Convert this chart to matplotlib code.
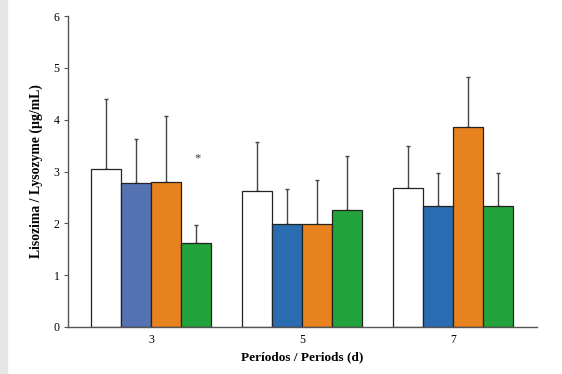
import numpy as np
import matplotlib.pyplot as plt
from matplotlib.patches import Rectangle

# Lysozyme by period, four treatments
periods = ['3', '5', '7']
control = [3.04, 2.63, 2.68]
control_err = [1.36, 0.94, 0.82]
treat_a = [2.78, 1.98, 2.33]
treat_a_err = [0.85, 0.68, 0.64]
treat_b = [2.80, 1.98, 3.85]
treat_b_err = [1.27, 0.86, 0.97]
treat_c = [1.62, 2.25, 2.33]
treat_c_err = [0.34, 1.05, 0.64]

plt.rcParams['font.family'] = ['Liberation Serif', 'DejaVu Serif']

fig = plt.figure(figsize=(5.62, 3.74), dpi=100)
fig.patches.append(Rectangle((0, 0), 7 / 562, 1, transform=fig.transFigure,
                             color='#e6e6e6', zorder=0))
ax = fig.add_axes([0.121, 0.1257, 0.8345, 0.8313])

x = np.arange(len(periods))
w = 0.2
series = [
    (control, control_err, ['white'] * 3),
    (treat_a, treat_a_err, ['#5573b2', '#2a6cb2', '#2a6cb2']),
    (treat_b, treat_b_err, ['#e8821e'] * 3),
    (treat_c, treat_c_err, ['#23a33b'] * 3),
]
for i, (vals, errs, cols) in enumerate(series):
    pos = x + (i - 1.5) * w
    ax.bar(pos, vals, width=w, color=cols, edgecolor='#222222', linewidth=0.9, zorder=2)
    ax.errorbar(pos, vals, yerr=[np.zeros(3), errs], fmt='none', ecolor='#444444',
                elinewidth=1, capsize=1.5, capthick=1, zorder=1)

ax.text(0 + 1.5 * w + 0.01, 3.26, '*', ha='center', va='center', fontsize=9, color='#333333')

ax.set_xlim(-0.55, 2.556)
ax.set_ylim(0, 6)
ax.set_yticks(range(0, 7))
ax.set_xticks(x)
ax.set_xticklabels(periods)
ax.tick_params(axis='y', direction='out', length=3, width=0.8, color='#555555', labelsize=8.5, pad=3)
ax.tick_params(axis='x', length=0, labelsize=8.5, pad=5)
for s in ['top', 'right']:
    ax.spines[s].set_visible(False)
for s in ['left', 'bottom']:
    ax.spines[s].set_color('#555555')
    ax.spines[s].set_linewidth(1)

ax.set_ylabel('Lisozima / Lysozyme (µg/mL)', fontsize=9.9, fontweight='bold', labelpad=8)
ax.set_xlabel('Períodos / Periods (d)', fontsize=9.5, fontweight='bold', labelpad=4)

fig.savefig('out.png', dpi=100)
